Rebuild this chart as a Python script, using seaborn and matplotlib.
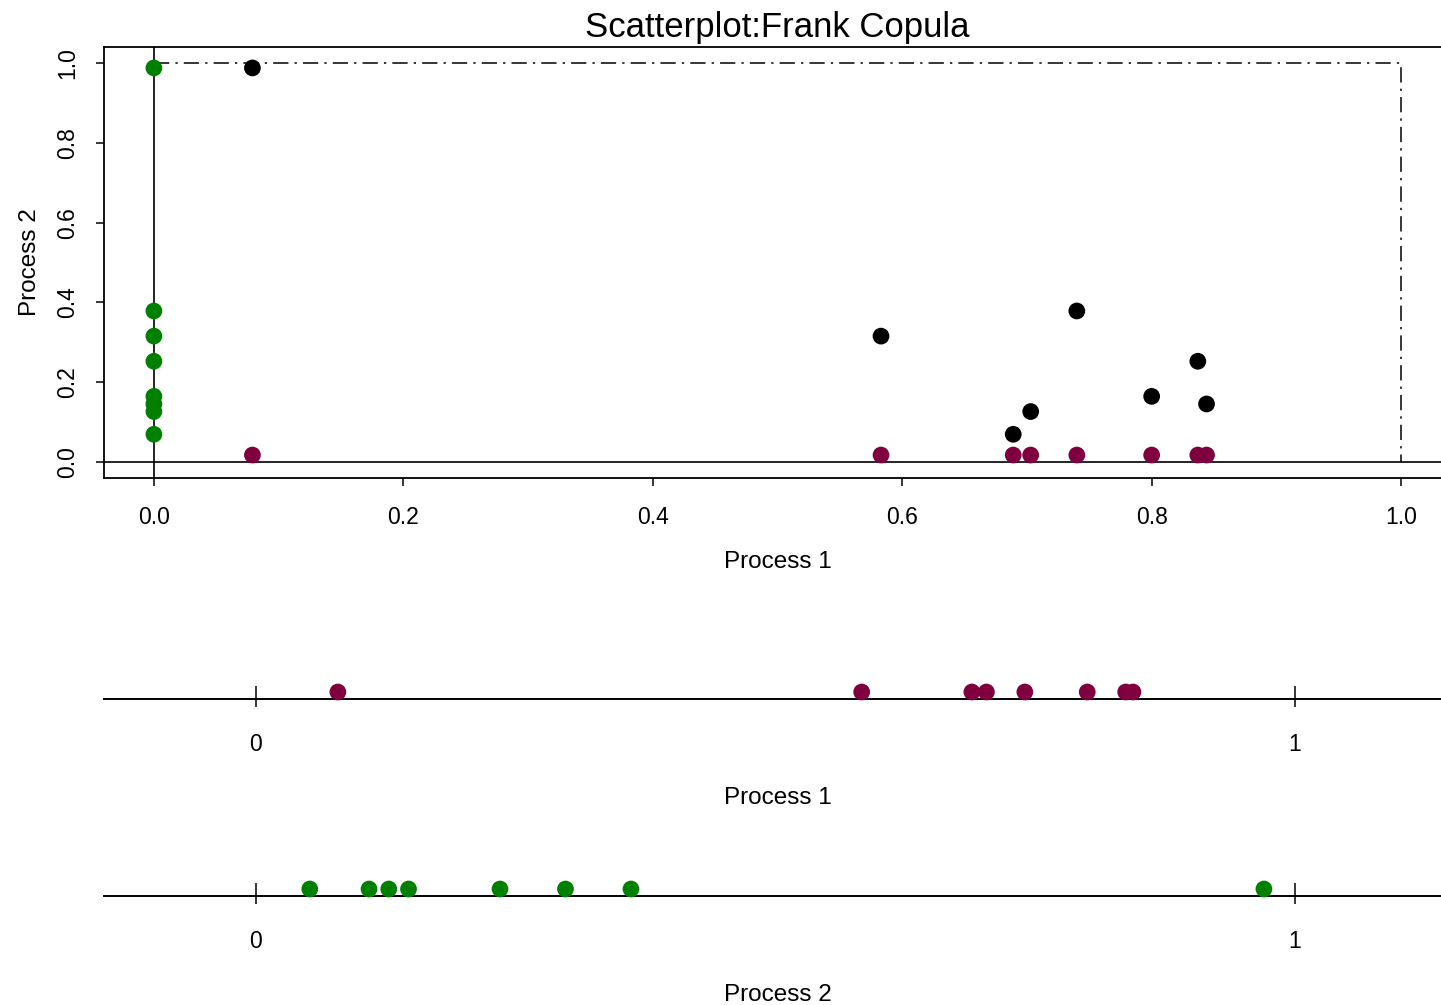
import matplotlib
matplotlib.use("Agg")
import matplotlib.pyplot as plt
import matplotlib.transforms as mtransforms
import seaborn as sns
import pandas as pd
import numpy as np

# ---- data ----
process1 = [0.079, 0.583, 0.689, 0.703, 0.740, 0.800, 0.837, 0.844]
process2 = [0.970, 0.298, 0.052, 0.109, 0.361, 0.147, 0.235, 0.128]
main_ticks = [0.0, 0.2, 0.4, 0.6, 0.8, 1.0]
main_ticklabels = ["0.0", "0.2", "0.4", "0.6", "0.8", "1.0"]
strip_ticks = [0, 1]
strip_ticklabels = ["0", "1"]
title = "Scatterplot:Frank Copula"
xlab = "Process 1"
ylab = "Process 2"

BLACK = "#000000"
PURPLE = "#80003F"
GREEN = "#008000"

sns.set_style("white")
plt.rcParams["font.family"] = ["Liberation Sans", "DejaVu Sans"]
plt.rcParams["text.color"] = "black"
plt.rcParams["axes.labelcolor"] = "black"
plt.rcParams["xtick.color"] = "black"
plt.rcParams["ytick.color"] = "black"

W, H = 1441, 1005
fig = plt.figure(figsize=(W / 100, H / 100), dpi=100)

def fax(l, r, t, b):
    return fig.add_axes([l / W, 1 - b / H, (r - l) / W, (b - t) / H])

df = pd.DataFrame({"p1": process1, "p2": process2,
                   "zero": [0.0] * len(process1)})

MS = 145
# point symbols are drawn ~7 px above their data position, as in the reference
def lifted(ax):
    return mtransforms.offset_copy(ax.transData, fig=fig, x=0, y=7, units="dots")

# ---------------- main scatter ----------------
ax = fax(104, 1451, 47, 478)
ax.set_xlim(-0.04, 1.04)
ax.set_ylim(-0.04, 1.04)
for s in ax.spines.values():
    s.set_color("black")
    s.set_linewidth(1.3)
ax.axvline(0, color="black", lw=1.2, zorder=1)
ax.axhline(0, color="black", lw=1.2, zorder=1)
ax.plot([0, 1, 1], [1, 1, 0], color="black", lw=1.1,
        linestyle=(0, (10, 4, 1.5, 4)), zorder=1)

sns.scatterplot(data=df, x="p1", y="p2", ax=ax, color=BLACK, s=MS,
                edgecolor="none", transform=lifted(ax), zorder=3, legend=False)
sns.scatterplot(data=df, x="p1", y="zero", ax=ax, color=PURPLE, s=MS,
                edgecolor="none", transform=lifted(ax), zorder=3, legend=False)
sns.scatterplot(data=df, x="zero", y="p2", ax=ax, color=GREEN, s=MS,
                edgecolor="none", transform=lifted(ax), zorder=3, legend=False)

ax.set_xticks(main_ticks)
ax.set_xticklabels(main_ticklabels)
ax.set_yticks(main_ticks)
ax.set_yticklabels(main_ticklabels, rotation=90, va="center")
ax.tick_params(axis="both", direction="out", length=6, width=1.1,
               color="black", labelsize=16.5, bottom=True, left=True)
ax.tick_params(axis="x", pad=14)
ax.tick_params(axis="y", pad=12)
ax.set_xlabel(xlab, fontsize=17.5, labelpad=16)
ax.set_ylabel(ylab, fontsize=17.5, labelpad=11)
ax.set_title(title, fontsize=25, pad=7)

# ---------------- strip charts ----------------
def strip(line_y, values, color, label):
    a = fax(104, 1451, line_y - 40, line_y + 40)
    a.set_xlim(-0.146, 1.15)
    a.set_ylim(-1, 1)
    a.set_facecolor("none")
    for k in ("top", "right", "left"):
        a.spines[k].set_visible(False)
    a.spines["bottom"].set_position(("data", 0))
    a.spines["bottom"].set_color("black")
    a.spines["bottom"].set_linewidth(1.4)
    a.set_yticks([])
    sdf = pd.DataFrame({"v": values, "zero": [0.0] * len(values)})
    sns.scatterplot(data=sdf, x="v", y="zero", ax=a, color=color, s=MS,
                    edgecolor="none", transform=lifted(a), zorder=3,
                    legend=False, clip_on=False)
    a.set_xticks(strip_ticks)
    a.set_xticklabels(strip_ticklabels)
    a.set_xticks(strip_ticks, minor=True)
    a.xaxis.remove_overlapping_locs = False
    a.tick_params(axis="x", which="major", direction="out", length=5.5,
                  width=1.1, color="black", labelsize=16.5, pad=19, bottom=True)
    a.tick_params(axis="x", which="minor", direction="in", length=9.5,
                  width=1.1, color="black", bottom=True)
    a.set_xlabel(label, fontsize=17.5, labelpad=22)
    a.set_ylabel("")
    return a

strip(699, process1, PURPLE, xlab)
strip(896, process2, GREEN, ylab)

fig.savefig("out.png", dpi=100)
